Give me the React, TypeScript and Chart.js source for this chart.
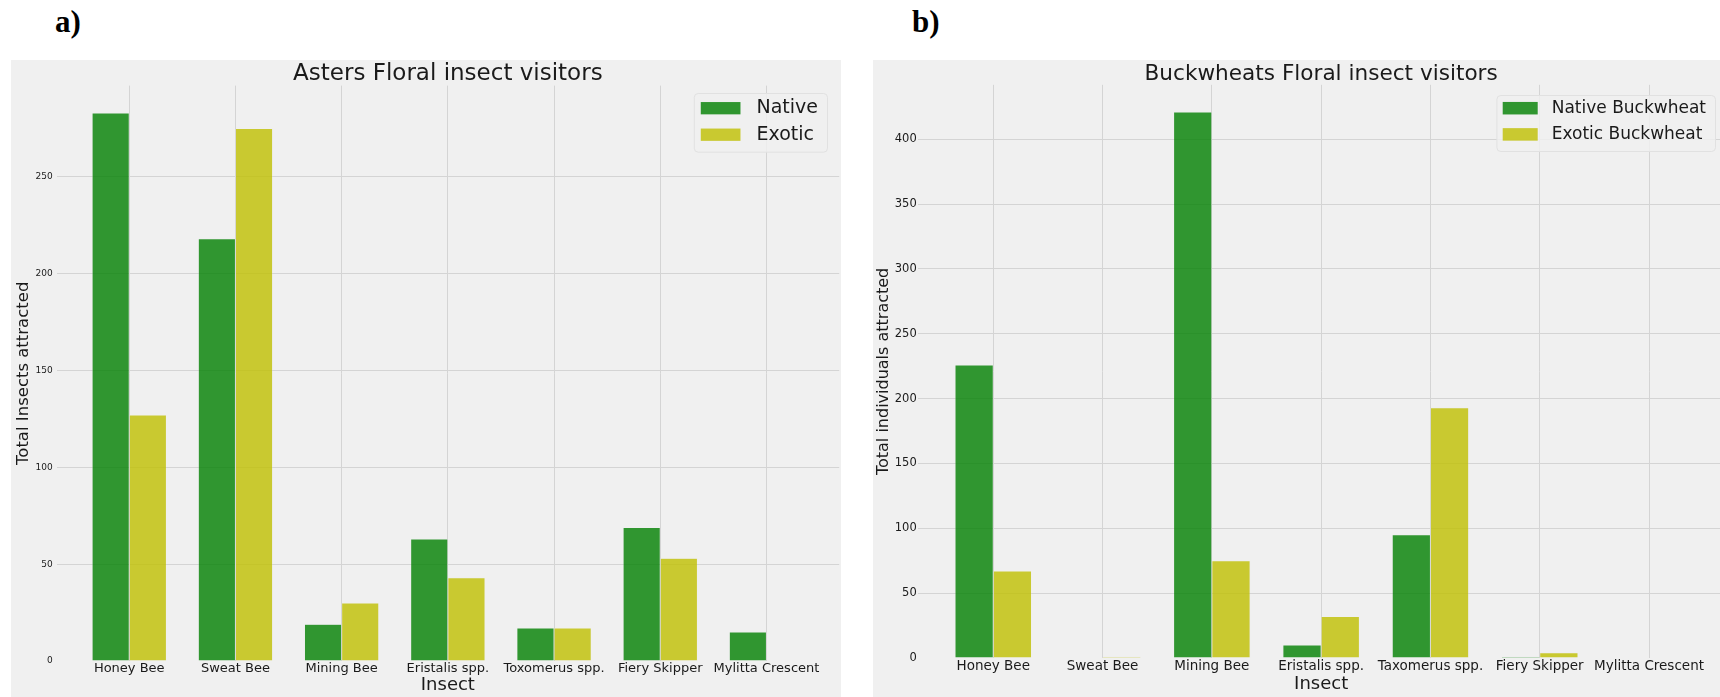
import React, { useEffect, useRef } from "react";
import { Chart, registerables } from "chart.js";

Chart.register(...registerables);

// ---- data ----
const asterInsects = [
  "Honey Bee",
  "Sweat Bee",
  "Mining Bee",
  "Eristalis spp.",
  "Toxomerus spp.",
  "Fiery Skipper",
  "Mylitta Crescent",
];
const asterNative = [283, 218, 19, 63, 17, 69, 15];
const asterExotic = [127, 275, 30, 43, 17, 53, 0];
const asterTicks = [0, 50, 100, 150, 200, 250];

const buckwheatInsects = [
  "Honey Bee",
  "Sweat Bee",
  "Mining Bee",
  "Eristalis spp.",
  "Taxomerus spp.",
  "Fiery Skipper",
  "Mylitta Crescent",
];
const buckwheatNative = [226, 0, 421, 10, 95, 1, 0];
const buckwheatExotic = [67, 1, 75, 32, 193, 4, 0];
const buckwheatTicks = [0, 50, 100, 150, 200, 250, 300, 350, 400];

// ---- style ----
const FONT = '"DejaVu Sans", "Liberation Sans", sans-serif';
const BG = "#f0f0f0";
const GRID = "#d4d4d4";
const GREEN = "rgba(0,128,0,0.8)";
const OLIVE = "rgba(191,191,0,0.8)";
const TEXT = "#1a1a1a";

Chart.defaults.font.family = FONT;
Chart.defaults.color = TEXT;

const backgroundPlugin = {
  id: "panelBackground",
  beforeDraw(chart: any) {
    const { ctx, width, height } = chart;
    ctx.save();
    ctx.fillStyle = BG;
    ctx.fillRect(0, 0, width, height);
    ctx.restore();
  },
};

// framed legend drawn inside the upper-right corner of the plot area
const innerLegendPlugin = {
  id: "innerLegend",
  afterDraw(chart: any, _args: any, o: any) {
    if (!o || !o.display) return;
    const { ctx, chartArea } = chart;
    const sets = chart.data.datasets;
    ctx.save();
    ctx.font = `${o.fontSize}px ${FONT}`;
    const textW = Math.max(...sets.map((d: any) => ctx.measureText(d.label).width));
    const w = o.padLeft + o.patchW + o.gap + textW + o.padRight;
    const right = chartArea.right - o.inset;
    const left = right - w;
    const top = chartArea.top + o.top;
    const h = o.height;
    ctx.beginPath();
    ctx.roundRect(left + 0.5, top + 0.5, w, h, 4);
    ctx.fillStyle = "rgba(240,240,240,0.8)";
    ctx.fill();
    ctx.strokeStyle = "#e1e1e1";
    ctx.lineWidth = 1;
    ctx.stroke();
    sets.forEach((d: any, i: number) => {
      const cy = top + o.firstRow + i * o.rowGap;
      ctx.fillStyle = d.backgroundColor;
      ctx.fillRect(left + o.padLeft, cy - o.patchH / 2, o.patchW, o.patchH);
      ctx.fillStyle = TEXT;
      ctx.textAlign = "left";
      ctx.textBaseline = "middle";
      ctx.fillText(d.label, left + o.padLeft + o.patchW + o.gap, cy);
    });
    ctx.restore();
  },
};

type PanelSpec = {
  title: string;
  yTitle: string;
  labels: string[];
  native: number[];
  exotic: number[];
  nativeLabel: string;
  exoticLabel: string;
  ticks: number[];
  width: number;
  height: number;
  left: number;
  top: number;
  xMax: number;
  padRight: number;
  titleSize: number;
  titlePadTop: number;
  titlePadBottom: number;
  yWidth: number;
  yTickSize: number;
  yTickPad: number;
  yTitleSize: number;
  yTitlePad: number;
  xHeight: number;
  xTickSize: number;
  xTickPad: number;
  xTitlePad: number;
  legend: any;
};

function buildConfig(p: PanelSpec): any {
  const toPoints = (vals: number[]) => vals.map((v, i) => ({ x: i, y: v }));
  const yMax = Math.max(...p.native, ...p.exotic) * 1.05;
  return {
    type: "bar",
    data: {
      datasets: [
        {
          label: p.nativeLabel,
          data: toPoints(p.native),
          backgroundColor: GREEN,
          borderColor: "rgba(240,240,240,0.5)",
          borderWidth: 0.5,
          borderSkipped: "start",
          categoryPercentage: 0.7,
          barPercentage: 1,
        },
        {
          label: p.exoticLabel,
          data: toPoints(p.exotic),
          backgroundColor: OLIVE,
          borderColor: "rgba(240,240,240,0.5)",
          borderWidth: 0.5,
          borderSkipped: "start",
          categoryPercentage: 0.7,
          barPercentage: 1,
        },
      ],
    },
    options: {
      responsive: false,
      animation: false,
      devicePixelRatio: 1,
      layout: { padding: { left: 0, right: p.padRight, top: 0, bottom: 0 } },
      plugins: {
        legend: { display: false },
        tooltip: { enabled: false },
        title: {
          display: true,
          text: p.title,
          fullSize: false,
          color: TEXT,
          font: { family: FONT, size: p.titleSize, weight: "normal", lineHeight: 1 },
          padding: { top: p.titlePadTop, bottom: p.titlePadBottom },
        },
        innerLegend: p.legend,
      },
      scales: {
        x: {
          type: "linear",
          min: -0.685,
          max: p.xMax,
          offset: false,
          border: { display: false },
          grid: { color: GRID, lineWidth: 1, drawTicks: false, offset: false },
          afterBuildTicks: (s: any) => {
            s.ticks = p.labels.map((_, i) => ({ value: i }));
          },
          afterFit: (s: any) => {
            s.height = p.xHeight;
          },
          ticks: {
            autoSkip: false,
            maxRotation: 0,
            minRotation: 0,
            padding: p.xTickPad,
            color: TEXT,
            font: { family: FONT, size: p.xTickSize },
            callback: (_v: any, i: number) => p.labels[i],
          },
          title: {
            display: true,
            text: "Insect",
            color: TEXT,
            font: { family: FONT, size: 18 },
            padding: { top: 0, bottom: p.xTitlePad },
          },
        },
        y: {
          type: "linear",
          min: 0,
          max: yMax,
          border: { display: false },
          grid: {
            drawTicks: false,
            lineWidth: 1,
            color: (c: any) => (c.tick && c.tick.value === 0 ? "rgba(0,0,0,0)" : GRID),
          },
          afterBuildTicks: (s: any) => {
            s.ticks = p.ticks.map((v) => ({ value: v }));
          },
          afterFit: (s: any) => {
            s.width = p.yWidth;
          },
          ticks: {
            padding: p.yTickPad,
            color: TEXT,
            font: { family: FONT, size: p.yTickSize },
            callback: (v: any) => String(v),
          },
          title: {
            display: true,
            text: p.yTitle,
            color: TEXT,
            font: { family: FONT, size: p.yTitleSize },
            padding: { top: p.yTitlePad, bottom: 0 },
          },
        },
      },
    },
    plugins: [backgroundPlugin, innerLegendPlugin],
  };
}

const asterPanel: PanelSpec = {
  title: "Asters Floral insect visitors",
  yTitle: "Total Insects attracted",
  labels: asterInsects,
  native: asterNative,
  exotic: asterExotic,
  nativeLabel: "Native",
  exoticLabel: "Exotic",
  ticks: asterTicks,
  width: 830,
  height: 637,
  left: 11,
  top: 60,
  xMax: 6.685,
  padRight: 1.8,
  titleSize: 23,
  titlePadTop: 2.5,
  titlePadBottom: 0.1,
  yWidth: 45.5,
  yTickSize: 9,
  yTickPad: 3.8,
  yTitleSize: 16.5,
  yTitlePad: 2.4,
  xHeight: 36,
  xTickSize: 13,
  xTickPad: 0,
  xTitlePad: 1.2,
  legend: {
    display: true,
    fontSize: 19,
    inset: 12.2,
    top: 7.4,
    height: 58.7,
    padLeft: 7,
    patchW: 39.7,
    patchH: 12.3,
    gap: 16,
    padRight: 9,
    firstRow: 15.2,
    rowGap: 26.5,
  },
};

const buckwheatPanel: PanelSpec = {
  title: "Buckwheats Floral insect visitors",
  yTitle: "Total individuals attracted",
  labels: buckwheatInsects,
  native: buckwheatNative,
  exotic: buckwheatExotic,
  nativeLabel: "Native Buckwheat",
  exoticLabel: "Exotic Buckwheat",
  ticks: buckwheatTicks,
  width: 857,
  height: 637,
  left: 873,
  top: 60,
  xMax: 6.685,
  padRight: 6.1,
  titleSize: 21.6,
  titlePadTop: 3.2,
  titlePadBottom: 0,
  yWidth: 45.4,
  yTickSize: 11.5,
  yTickPad: 1.7,
  yTitleSize: 16,
  yTitlePad: 1.4,
  xHeight: 39,
  xTickSize: 13.5,
  xTickPad: 0,
  xTitlePad: 1.7,
  legend: {
    display: true,
    fontSize: 17,
    inset: 8.9,
    top: 10.2,
    height: 56,
    padLeft: 6.3,
    patchW: 35,
    patchH: 12.5,
    gap: 14,
    padRight: 9,
    firstRow: 13.2,
    rowGap: 26.2,
  },
};

function Panel({ spec }: { spec: PanelSpec }) {
  const ref = useRef<HTMLCanvasElement>(null);
  useEffect(() => {
    const chart = new Chart(ref.current as HTMLCanvasElement, buildConfig(spec));
    return () => chart.destroy();
  }, [spec]);
  return (
    <canvas
      ref={ref}
      width={spec.width}
      height={spec.height}
      style={{
        position: "absolute",
        left: spec.left,
        top: spec.top,
        width: spec.width,
        height: spec.height,
      }}
    />
  );
}

const letterStyle: React.CSSProperties = {
  position: "absolute",
  top: 6,
  fontFamily: '"Liberation Serif", "Times New Roman", serif',
  fontWeight: "bold",
  fontSize: 31,
  lineHeight: "31px",
  color: "#000",
};

export default function App() {
  return (
    <div
      style={{
        position: "fixed",
        left: 0,
        top: 0,
        width: 1720,
        height: 697,
        overflow: "hidden",
        background: "#fff",
      }}
    >
      <div style={{ ...letterStyle, left: 55 }}>a)</div>
      <div style={{ ...letterStyle, left: 912 }}>b)</div>
      <Panel spec={asterPanel} />
      <Panel spec={buckwheatPanel} />
    </div>
  );
}
